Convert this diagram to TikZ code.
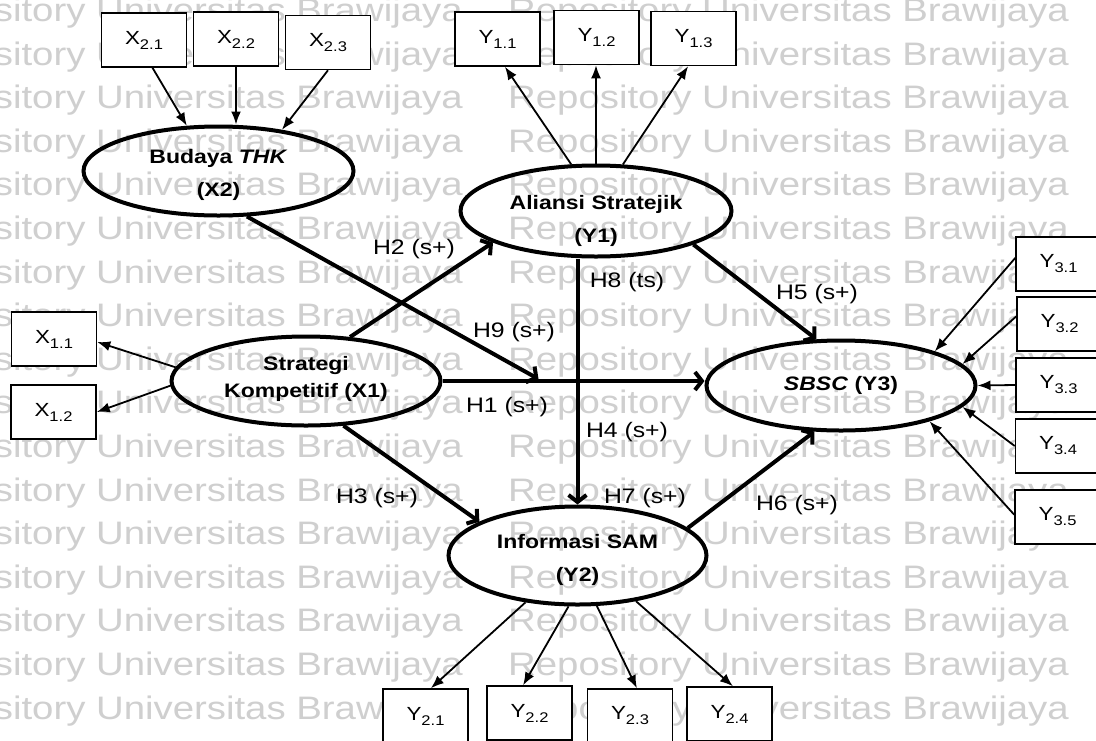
\documentclass[tikz,border=0pt]{standalone}
\usepackage{fontspec}
\setmainfont{Liberation Sans}[FakeStretch=1.18]
\usetikzlibrary{shapes.geometric,arrows.meta}

% indicator label: letter with a lowered index
\newcommand{\indic}[2]{#1{\fontsize{14}{14}\selectfont\raisebox{-5pt}{#2}}}

\begin{document}
\begin{tikzpicture}[x=1pt, y=-1pt,
    construct/.style={ellipse, draw, line width=4pt, inner sep=0pt},
    conlabel/.style={font=\fontsize{19.5}{33}\selectfont\bfseries, align=center},
    indicator/.style={draw, fill=white, line width=1.5pt, minimum width=85pt, minimum height=54pt, inner sep=0pt, font=\fontsize{19}{19}\selectfont},
    loading/.style={-{Latex[length=13pt,width=10pt]}, line width=1.8pt},
    hyp/.style={-{Straight Barb[length=7pt,width=18pt]}, line width=4pt},
    hlabel/.style={font=\fontsize{21}{21}\selectfont, inner sep=0pt},
    watermark/.style={font=\fontsize{32.5}{32.5}\selectfont, text=black!19, inner sep=0pt, anchor=base west}]
    \fill[white] (0,0) rectangle (1096,740);
    \useasboundingbox (0,0) rectangle (1096,740);

    % background lettering
    \foreach \k in {0,...,16} {
        \node[watermark] (wml\k) at (-98,21.5+43.6*\k) {Repository Universitas Brawijaya};
        \node[watermark] (wmr\k) at (508,21.5+43.6*\k) {Repository Universitas Brawijaya};
    }

    % latent variables
    \node[construct, minimum width=270pt, minimum height=89pt, label={[conlabel, yshift=-4pt]center:{Budaya \textit{THK}\\(X2)}}] (x2) at (218.5,171) {};
    \node[construct, minimum width=271pt, minimum height=91pt, label={[conlabel, yshift=-10pt]center:{Aliansi Stratejik\\(Y1)}}] (y1) at (596,211) {};
    \node[construct, minimum width=269pt, minimum height=89pt, label={[conlabel, yshift=2pt]center:{Strategi\\[-6pt]Kompetitif (X1)}}] (x1) at (306,381) {};
    \node[construct, minimum width=258pt, minimum height=98pt, label={[conlabel, yshift=-4pt]center:{Informasi SAM\\(Y2)}}] (y2) at (577.5,555.5) {};
    \node[construct, minimum width=269pt, minimum height=90pt, label={[conlabel]center:{\textit{SBSC} (Y3)}}] (y3) at (841,385.5) {};

    % indicators
    \node[indicator] (x21) at (144,40) {\indic{X}{2.1}};
    \node[indicator] (x22) at (236,39) {\indic{X}{2.2}};
    \node[indicator] (x23) at (328,42.5) {\indic{X}{2.3}};
    \node[indicator] (y11) at (497.5,39) {\indic{Y}{1.1}};
    \node[indicator] (y12) at (596.5,37.5) {\indic{Y}{1.2}};
    \node[indicator] (y13) at (693.5,38.5) {\indic{Y}{1.3}};
    \node[indicator] (x11) at (54,339) {\indic{X}{1.1}};
    \node[indicator] (x12) at (53.5,412) {\indic{X}{1.2}};
    \node[indicator] (y21) at (425.5,716) {\indic{Y}{2.1}};
    \node[indicator] (y22) at (529.5,713) {\indic{Y}{2.2}};
    \node[indicator] (y23) at (630,716) {\indic{Y}{2.3}};
    \node[indicator] (y24) at (729.5,714) {\indic{Y}{2.4}};
    \node[indicator] (y31) at (1058.5,264) {\indic{Y}{3.1}};
    \node[indicator] (y32) at (1059.5,324) {\indic{Y}{3.2}};
    \node[indicator] (y33) at (1058.5,385) {\indic{Y}{3.3}};
    \node[indicator] (y34) at (1058,446) {\indic{Y}{3.4}};
    \node[indicator] (y35) at (1057.5,517) {\indic{Y}{3.5}};

    % loadings
    \draw[loading] (x21.-73) -- (x2.125);
    \draw[loading] (x22.south) -- (x22.south |- x2.north);
    \draw[loading] (x23.south) -- (x2.33);
    \draw[loading] (y1.118) -- (y11.-75);
    \draw[loading] (y1.north) -- (y1.north |- y12.south);
    \draw[loading] (y1.60) -- (y13.-101);
    \draw[loading] (x1.174) -- (x11.-4);
    \draw[loading] (x1.182) -- (x12.east);
    \draw[loading] (y2.-138) -- (y21.79);
    \draw[loading] (y2.-100) -- (y22.103);
    \draw[loading] (y2.-69) -- (y23.76);
    \draw[loading] (y2.-38) -- (y24.83);
    \draw[loading] (y31.172) -- (y3.20);
    \draw[loading] (y32.170) -- (y3.10);
    \draw[loading] (y33.west) -- (y3.east);
    \draw[loading] (y34.west) -- (y3.-10);
    \draw[loading] (y35.177) -- (y3.-22);

    % hypotheses
    \coordinate (meet) at ([shift={(96pt,2pt)}]x1.east);
    \draw[hyp] (x1.east) -- (x1.east -| y3.west);
    \draw[hyp] (x1.45) -- (y1.-163);
    \draw[hyp] (x1.-50) -- (y2.161);
    \draw[hyp] (y2.north |- y1.south) -- (y2.north);
    \draw[hyp] (y1.-19) -- (y3.118);
    \draw[hyp] (y2.14) -- (y3.-120);
    \draw[hyp] (x2.-58) -- (meet);

    \node[hlabel] (h1) at (507,407) {H1 (s+)};
    \node[hlabel] (h2) at (414,249) {H2 (s+)};
    \node[hlabel] (h3) at (377,498) {H3 (s+)};
    \node[hlabel] (h4) at (627,432) {H4 (s+)};
    \node[hlabel] (h5) at (817,294) {H5 (s+)};
    \node[hlabel] (h6) at (797,505) {H6 (s+)};
    \node[hlabel] (h7) at (645,498) {H7 (s+)};
    \node[hlabel] (h8) at (627,282) {H8 (ts)};
    \node[hlabel] (h9) at (514,332) {H9 (s+)};
\end{tikzpicture}
\end{document}
